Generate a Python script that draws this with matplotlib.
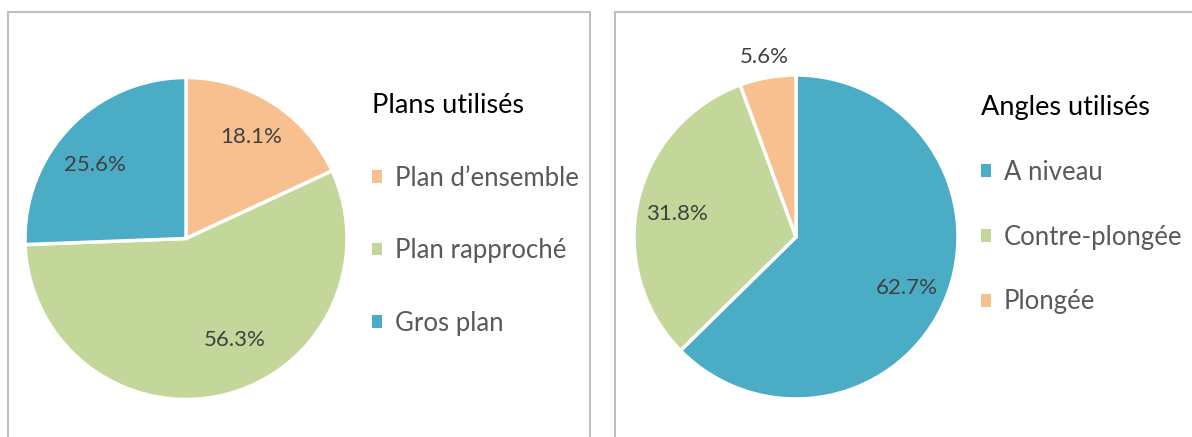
import matplotlib
matplotlib.use("Agg")
import matplotlib.pyplot as plt
from matplotlib.patches import Rectangle, Patch
import numpy as np

# data
plan_labels = ["Plan d’ensemble", "Plan rapproché", "Gros plan"]
plan_values = [18.1, 56.3, 25.6]
angle_labels = ["A niveau", "Contre-plongée", "Plongée"]
angle_values = [62.7, 31.8, 5.6]

BLUE, GREEN, ORANGE = "#4BACC6", "#C4D79B", "#F9C08F"
plan_colors = [ORANGE, GREEN, BLUE]
angle_colors = [BLUE, GREEN, ORANGE]

W, H = 1192, 437
plt.rcParams["font.family"] = ["Lato", "DejaVu Sans"]

fig = plt.figure(figsize=(W / 100, H / 100), dpi=100)


def pie_axes(x0, x1, cx, cy, r):
    # axes covering pixel columns x0..x1, full height; 1 data unit = pie radius
    ax = fig.add_axes([x0 / W, 0, (x1 - x0) / W, 1])
    return ax, ((x0 - cx) / r, (x1 - cx) / r), ((cy - H) / r, cy / r)


def draw_pie(ax, xlim, ylim, values, colors, dists, nudges):
    wedges, _ = ax.pie(values, colors=colors, startangle=90, counterclock=False,
                       wedgeprops=dict(edgecolor="white", linewidth=2.5))
    for w, v, d, n in zip(wedges, values, dists, nudges):
        a = np.deg2rad((w.theta1 + w.theta2) / 2 + n)
        ax.text(d * np.cos(a), d * np.sin(a), f"{v:.1f}%", ha="center", va="center",
                color="#404040", fontsize=16)
    ax.set_aspect("auto")
    ax.set_xlim(*xlim)
    ax.set_ylim(*ylim)
    return wedges


def add_legend(ax, wedges, labels, title, x, y, spacing):
    handles = [Patch(facecolor=w.get_facecolor(), edgecolor="none") for w in wedges]
    leg = ax.legend(handles, labels, title=title, loc="upper left",
                    bbox_to_anchor=(x / W, 1 - y / H), bbox_transform=fig.transFigure,
                    frameon=False, fontsize=18.5, title_fontsize=19.5,
                    handlelength=0.38, handleheight=0.38, handletextpad=0.5,
                    labelspacing=spacing, alignment="left", borderpad=0, borderaxespad=0)
    for t in leg.get_texts():
        t.set_color("#595959")
    leg.get_title().set_color("black")


ax1, xl, yl = pie_axes(0, 596, 186, 238.5, 161)
w1 = draw_pie(ax1, xl, yl, plan_values, plan_colors, [0.75, 0.70, 0.73], [0, 12, 5])
add_legend(ax1, w1, plan_labels, "Plans utilisés", 372, 93, 1.85)

ax2, xl, yl = pie_axes(600, W, 796, 237, 162)
w2 = draw_pie(ax2, xl, yl, angle_values, angle_colors, [0.75, 0.75, 1.13], [-2, 2, 0])
add_legend(ax2, w2, angle_labels, "Angles utilisés", 981, 95, 1.55)

# chart area borders (cut at the bottom / right like the screenshot)
for x0, x1 in [(8, 590), (615, W + 10)]:
    fig.add_artist(Rectangle((x0 / W, -0.1), (x1 - x0) / W, 1.1 - 12 / H,
                             transform=fig.transFigure, fill=False,
                             edgecolor="#BFBFBF", linewidth=1.5))

fig.savefig("out.png", dpi=100)
